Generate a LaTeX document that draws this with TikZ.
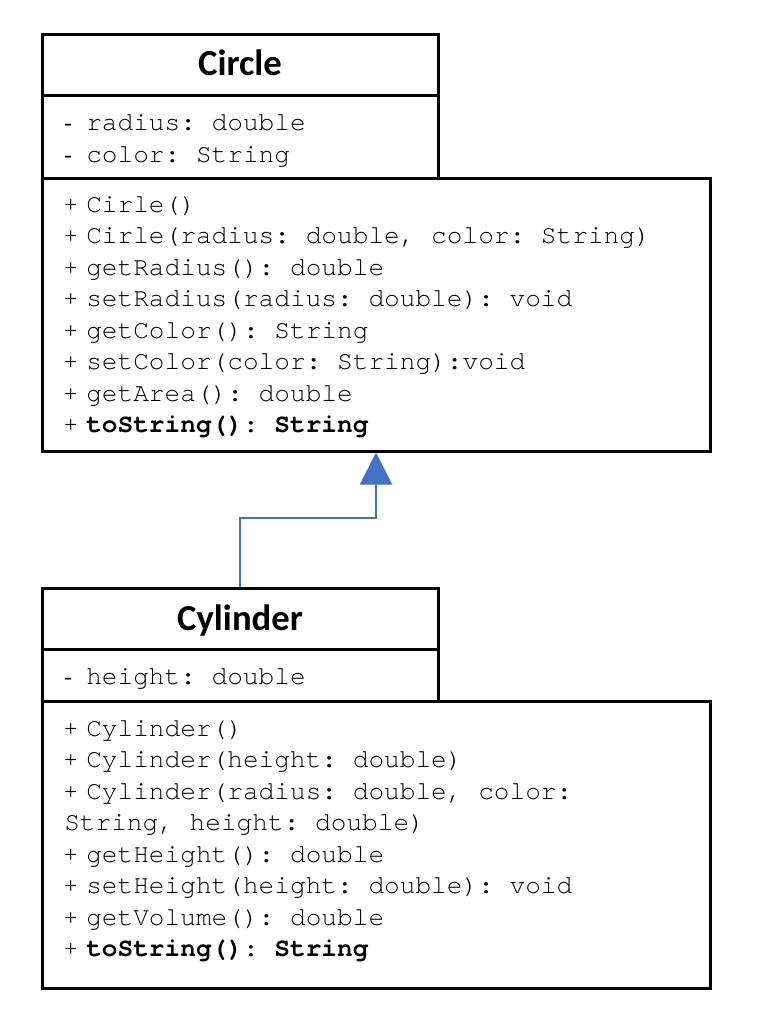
\documentclass[tikz,border=0pt]{standalone}
\usepackage{fontspec}
\setmainfont{Liberation Serif}
\setmonofont{texgyrecursor}[Extension=.otf, UprightFont=*-regular, BoldFont=*-bold]
\newfontfamily\titlefont{Carlito}
\usetikzlibrary{arrows.meta,fit}
\definecolor{umlblue}{HTML}{4472C4}
\tikzset{
  umlbox/.style={draw=black, line width=2.25pt, inner sep=0pt, fill=white},
  umltitle/.style={font=\titlefont\bfseries\fontsize{27.5}{30}\selectfont, anchor=base, inner sep=0pt},
  member/.style={font=\ttfamily\fontsize{19.6}{22}\selectfont, anchor=base west, inner sep=0pt},
  inh/.style={draw=umlblue, line width=1.5pt, -{Triangle[width=24pt,length=24pt,fill=umlblue]}}
}
\newcommand{\vis}[1]{\makebox[16.5pt][l]{\rmfamily\fontsize{17}{17}\selectfont #1}}
\begin{document}
\begin{tikzpicture}[x=0.75pt,y=-0.75pt]
\useasboundingbox (0,0) rectangle (780,1014);
\fill[white] (0,0) rectangle (780,1014);
% Circle class
\node[umlbox, fit={(42,34)(438,95)}] (ct) {};
\node[umlbox, fit={(42,95)(438,178)}] (ca) {};
\node[umlbox, fit={(42,178)(710,451)}] (cm) {};
\node[umltitle] (ctt) at (240,75) {Circle};
\node[member] (ca1) at (64,130) {\vis{-}radius: double};
\node[member] (ca2) at (64,162) {\vis{-}color: String};
\node[member] (cm1) at (64,212) {\vis{+}Cirle()};
\node[member] (cm2) at (64,243.5) {\vis{+}Cirle(radius: double, color: String)};
\node[member] (cm3) at (64,275) {\vis{+}getRadius(): double};
\node[member] (cm4) at (64,306.5) {\vis{+}setRadius(radius: double): void};
\node[member] (cm5) at (64,338) {\vis{+}getColor(): String};
\node[member] (cm6) at (64,369.5) {\vis{+}setColor(color: String):void};
\node[member] (cm7) at (64,401) {\vis{+}getArea(): double};
\node[member] (cm8) at (64,432.5) {\vis{+}\textbf{toString()}: \textbf{String}};
% Cylinder class
\node[umlbox, fit={(42,588)(438,649)}] (yt) {};
\node[umlbox, fit={(42,649)(438,701)}] (ya) {};
\node[umlbox, fit={(42,701)(710,988)}] (ym) {};
\node[umltitle] (ytt) at (240,630) {Cylinder};
\node[member] (ya1) at (64,684) {\vis{-}height: double};
\node[member] (ym1) at (64,736) {\vis{+}Cylinder()};
\node[member] (ym2) at (64,767.5) {\vis{+}Cylinder(height: double)};
\node[member] (ym3) at (64,799) {\vis{+}Cylinder(radius: double, color:};
\node[member] (ym4) at (64,830.5) {String, height: double)};
\node[member] (ym5) at (64,862) {\vis{+}getHeight(): double};
\node[member] (ym6) at (64,893.5) {\vis{+}setHeight(height: double): void};
\node[member] (ym7) at (64,925) {\vis{+}getVolume(): double};
\node[member] (ym8) at (64,956.5) {\vis{+}\textbf{toString()}: \textbf{String}};
% inheritance
\draw[inh] (yt.north) -- ++(0,-69) -| (cm.south);
\end{tikzpicture}
\end{document}
